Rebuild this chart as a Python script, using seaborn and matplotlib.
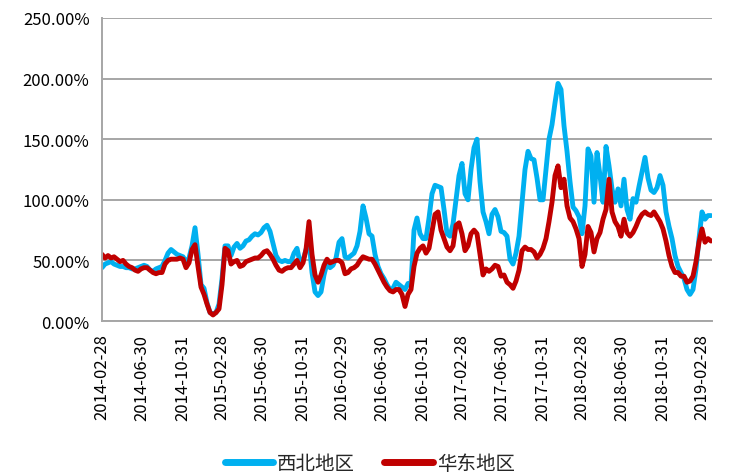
"""
plot.py - weekly ratio, 西北地区 vs 华东地区 (2014-02 .. 2019-03)
"""

import pandas as pd
import matplotlib.pyplot as plt
import matplotlib.dates as mdates
from matplotlib.ticker import FuncFormatter
import seaborn as sns

# ---------------------------------------------------------------------------
# Data (values in %)
# ---------------------------------------------------------------------------
START = '2014-02-28'
END = '2019-03-28'

northwest = [
    44, 47, 48, 49, 47, 46, 45, 45, 44, 44, 43, 43, 44, 45, 46, 45, 42, 41, 43, 44,
    45, 50, 56, 59, 57, 55, 54, 53, 49, 52, 62, 77, 55, 30, 27, 15, 7, 6, 7, 14,
    35, 62, 62, 54, 61, 64, 60, 62, 66, 67, 70, 72, 71, 73, 77, 79, 74, 64, 54, 50,
    49, 50, 49, 49, 56, 60, 48, 50, 59, 66, 40, 24, 21, 24, 38, 48, 44, 46, 52, 65,
    68, 53, 52, 54, 56, 62, 74, 95, 85, 72, 70, 55, 45, 39, 35, 30, 26, 27, 32, 30,
    28, 26, 31, 30, 75, 85, 72, 68, 68, 85, 105, 112, 111, 110, 92, 72, 70, 80, 100, 120,
    130, 105, 100, 125, 143, 150, 115, 90, 82, 72, 88, 92, 86, 74, 73, 70, 51, 47, 56, 70,
    97, 125, 140, 134, 133, 118, 100, 100, 125, 150, 162, 180, 196, 191, 161, 140, 115, 94, 91, 86,
    72, 95, 142, 136, 98, 139, 120, 98, 144, 128, 109, 98, 109, 95, 117, 92, 84, 101, 98, 111,
    123, 135, 118, 108, 106, 110, 120, 112, 90, 78, 68, 54, 45, 40, 35, 26, 22, 26, 43, 68,
    90, 84, 87, 87,
]

east = [
    55, 52, 54, 52, 53, 51, 49, 50, 47, 45, 44, 42, 41, 43, 44, 44, 42, 40, 39, 40,
    40, 47, 50, 51, 51, 51, 52, 51, 44, 48, 59, 63, 45, 28, 22, 14, 7, 5, 7, 10,
    30, 60, 58, 47, 49, 50, 45, 46, 49, 50, 51, 52, 52, 54, 57, 58, 55, 51, 46, 42,
    41, 43, 44, 44, 47, 50, 44, 48, 59, 82, 55, 38, 32, 38, 46, 51, 48, 49, 50, 50,
    48, 39, 40, 43, 44, 46, 50, 53, 52, 51, 51, 47, 42, 37, 32, 28, 25, 24, 26, 26,
    22, 12, 22, 26, 45, 56, 60, 62, 56, 60, 74, 88, 90, 75, 68, 61, 58, 62, 79, 81,
    72, 58, 62, 72, 75, 72, 55, 38, 43, 41, 43, 46, 45, 37, 38, 32, 30, 27, 33, 42,
    58, 61, 59, 59, 57, 52, 55, 60, 68, 82, 98, 120, 128, 110, 117, 95, 85, 82, 76, 68,
    45, 55, 78, 73, 57, 68, 73, 84, 92, 117, 90, 82, 78, 70, 84, 73, 70, 73, 78, 84,
    88, 90, 88, 87, 90, 86, 82, 76, 66, 54, 45, 40, 40, 37, 37, 32, 33, 37, 49, 65,
    76, 65, 68, 66,
]

SERIES = ['西北地区', '华东地区']
COLORS = ['#00B0F0', '#C00000']

TICK_DATES = [
    '2014-02-28', '2014-06-30', '2014-10-31', '2015-02-28', '2015-06-30',
    '2015-10-31', '2016-02-29', '2016-06-30', '2016-10-31', '2017-02-28',
    '2017-06-30', '2017-10-31', '2018-02-28', '2018-06-30', '2018-10-31',
    '2019-02-28',
]
Y_TICKS = [0, 50, 100, 150, 200, 250]

GRID = '#A6A6A6'


def build_frame() -> pd.DataFrame:
    dates = pd.date_range(START, END, periods=len(northwest))
    wide = pd.DataFrame({SERIES[0]: northwest, SERIES[1]: east}, index=dates)
    wide.index.name = 'date'
    return wide.reset_index().melt(id_vars='date', var_name='region',
                                   value_name='value')


def main() -> None:
    sns.set_style('white')
    plt.rcParams['font.family'] = ['Liberation Sans Narrow', 'Noto Sans CJK SC',
                                   'DejaVu Sans']

    df = build_frame()

    fig = plt.figure(figsize=(7.35, 4.77), dpi=100)
    ax = fig.add_axes([0.1388, 0.3249, 0.8299, 0.6353])

    sns.lineplot(data=df, x='date', y='value', hue='region', hue_order=SERIES,
                 palette=COLORS, linewidth=3.5, ax=ax, legend=False)

    # y axis
    ax.set_ylim(0, 250)
    ax.set_yticks(Y_TICKS)
    ax.yaxis.set_major_formatter(FuncFormatter(lambda v, _: f'{v:.2f}%'))
    ax.yaxis.grid(True, color=GRID, linewidth=1.4)
    ax.set_axisbelow(True)

    # x axis
    ticks = pd.to_datetime(TICK_DATES)
    ax.set_xlim(ticks[0], pd.Timestamp('2019-03-31'))
    ax.set_xticks(ticks)
    ax.xaxis.set_major_formatter(mdates.DateFormatter('%Y-%m-%d'))
    plt.setp(ax.get_xticklabels(), rotation=90)

    ax.tick_params(axis='x', direction='out', length=6, width=1.2, color=GRID,
                   labelsize=12, pad=3, labelcolor='#000000')
    ax.tick_params(axis='y', direction='out', length=5, width=1.2, color=GRID,
                   labelsize=12, pad=4, labelcolor='#000000')
    ax.set_xlabel('')
    ax.set_ylabel('')

    for side in ['top', 'right']:
        ax.spines[side].set_visible(False)
    for side in ['left', 'bottom']:
        ax.spines[side].set_color(GRID)
        ax.spines[side].set_linewidth(1.4)

    # legend
    handles = [plt.Line2D([], [], color=c, linewidth=5) for c in COLORS]
    fig.legend(handles, SERIES, loc='center', bbox_to_anchor=(0.503, 0.027),
               ncol=2, frameon=False, handlelength=2.5, handletextpad=0.2,
               columnspacing=1.5, prop={'family': ['Noto Sans CJK SC'],
                                        'size': 14})

    fig.savefig('out.png', dpi=100)
    plt.close(fig)


if __name__ == '__main__':
    main()
